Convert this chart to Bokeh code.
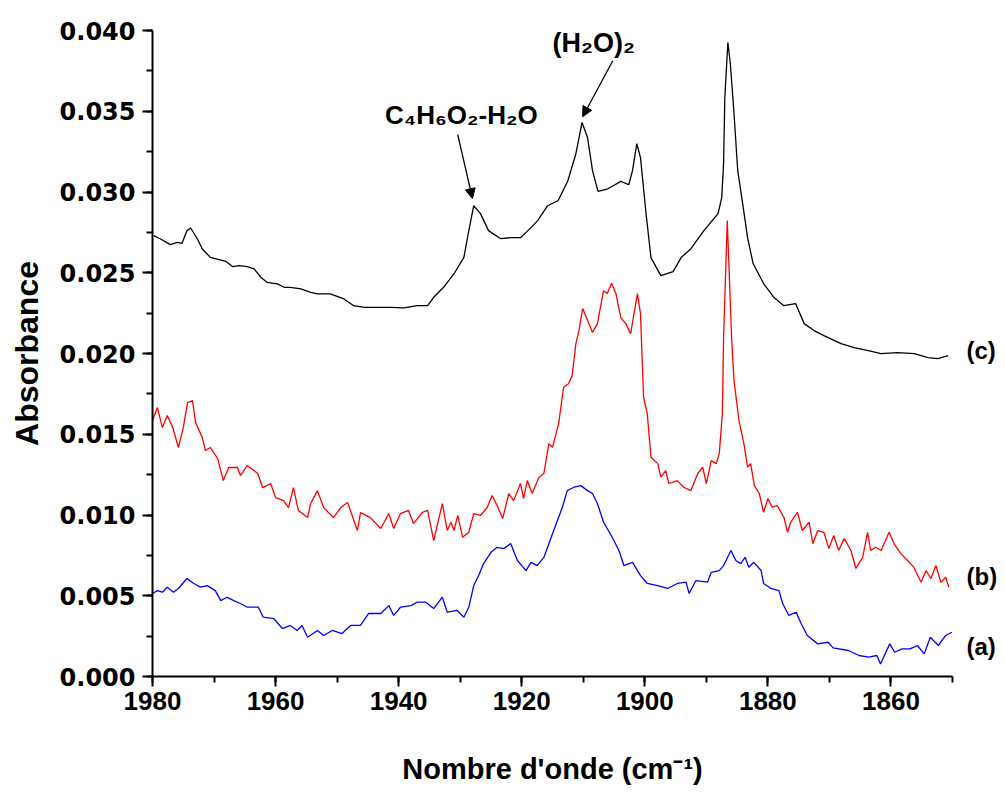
from bokeh.plotting import figure
from bokeh.models import (Range1d, Label, Arrow, NormalHead, FixedTicker, CustomJSTickFormatter,
                          LinearAxis)
from bokeh.embed import file_html
from bokeh.resources import INLINE

# ---- data ----
x_c = [1979.8, 1978.7, 1977.1, 1976.0, 1975.2, 1974.4, 1973.8, 1972.7, 1971.9, 1970.6,
       1968.1, 1967.0, 1965.9, 1964.6, 1963.5, 1962.4, 1961.4, 1959.7, 1958.6, 1957.6,
       1955.9, 1954.3, 1953.2, 1951.1, 1948.9, 1947.3, 1945.6, 1943.5, 1941.3, 1939.1,
       1937.0, 1935.3, 1934.3, 1932.7, 1931.0, 1929.4, 1928.6, 1927.8, 1926.7, 1925.4,
       1923.4, 1921.8, 1920.2, 1919.0, 1917.4, 1915.8, 1914.1, 1912.5, 1911.2, 1910.2,
       1909.3, 1908.5, 1907.6, 1906.0, 1903.9, 1902.6, 1902.0, 1901.3, 1900.7, 1899.8,
       1899.0, 1897.4, 1895.4, 1894.1, 1892.5, 1890.4, 1888.1, 1887.5, 1887.2, 1887.0,
       1886.5, 1886.1, 1885.5, 1884.9, 1884.1, 1883.3, 1882.4, 1880.7, 1879.0, 1877.4,
       1875.5, 1874.1, 1872.5, 1870.9, 1868.1, 1866.0, 1863.7, 1861.6, 1858.9, 1856.2,
       1854.0, 1852.4, 1850.7]
y_c = [0.02730, 0.02709, 0.02674, 0.02688, 0.02682, 0.02761, 0.02777, 0.02709, 0.02647, 0.02595,
       0.02571, 0.02538, 0.02544, 0.02538, 0.02524, 0.02472, 0.02441, 0.02431, 0.02410, 0.02410,
       0.02400, 0.02379, 0.02369, 0.02369, 0.02338, 0.02296, 0.02286, 0.02286, 0.02286, 0.02282,
       0.02296, 0.02296, 0.02348, 0.02410, 0.02494, 0.02595, 0.02761, 0.02915, 0.02866, 0.02761,
       0.02711, 0.02717, 0.02717, 0.02761, 0.02823, 0.02915, 0.02946, 0.03070, 0.03237, 0.03431,
       0.03336, 0.03132, 0.03004, 0.03020, 0.03066, 0.03045, 0.03132, 0.03299, 0.03213, 0.02866,
       0.02594, 0.02482, 0.02507, 0.02594, 0.02649, 0.02761, 0.02866, 0.02965, 0.03175, 0.03584,
       0.03926, 0.03794, 0.03485, 0.03132, 0.02928, 0.02717, 0.02557, 0.02433, 0.02346, 0.02296,
       0.02309, 0.02185, 0.02142, 0.02111, 0.02061, 0.02036, 0.02018, 0.01999, 0.02005, 0.01999,
       0.01975, 0.01968, 0.01987]

x_b = [1980.0, 1979.2, 1978.4, 1977.6, 1976.7, 1975.8, 1975.0, 1974.3, 1973.5, 1973.0,
       1971.9, 1971.4, 1970.6, 1969.4, 1968.5, 1967.6, 1966.2, 1965.7, 1964.6, 1962.9,
       1962.1, 1960.8, 1960.0, 1958.7, 1957.9, 1957.1, 1956.3, 1954.8, 1954.3, 1953.2,
       1952.2, 1950.6, 1949.4, 1948.3, 1946.7, 1946.2, 1944.6, 1942.9, 1941.6, 1940.8,
       1939.7, 1938.4, 1937.6, 1936.1, 1935.3, 1934.3, 1932.9, 1932.1, 1931.5, 1931.0,
       1930.4, 1929.6, 1928.6, 1927.8, 1926.7, 1925.6, 1924.8, 1924.0, 1923.1, 1922.1,
       1921.3, 1920.2, 1919.7, 1919.1, 1918.3, 1917.2, 1916.4, 1915.6, 1915.0, 1914.0,
       1913.2, 1912.4, 1911.8, 1911.2, 1910.7, 1910.1, 1909.3, 1908.5, 1907.7, 1906.7,
       1906.1, 1905.4, 1904.7, 1903.9, 1903.1, 1902.3, 1901.2, 1900.7, 1900.2, 1899.6,
       1899.0, 1897.9, 1897.4, 1896.6, 1896.1, 1894.7, 1893.7, 1892.5, 1891.4, 1890.6,
       1890.0, 1889.2, 1888.4, 1887.9, 1887.4, 1887.2, 1886.6, 1885.9, 1885.5, 1884.7,
       1883.9, 1883.3, 1882.8, 1882.2, 1881.4, 1880.7, 1880.0, 1879.3, 1878.5, 1877.4,
       1876.8, 1876.3, 1875.2, 1874.4, 1873.3, 1872.7, 1871.9, 1870.9, 1870.1, 1869.3,
       1868.5, 1867.6, 1866.5, 1865.7, 1864.6, 1863.8, 1863.3, 1862.5, 1861.6, 1860.3,
       1859.5, 1858.4, 1857.3, 1856.3, 1855.1, 1854.3, 1853.5, 1852.7, 1851.9, 1851.1,
       1850.6]
y_b = [0.01585, 0.01665, 0.01541, 0.01616, 0.01541, 0.01418, 0.01541, 0.01696, 0.01708, 0.01572,
       0.01479, 0.01399, 0.01418, 0.01349, 0.01213, 0.01294, 0.01294, 0.01244, 0.01306, 0.01257,
       0.01170, 0.01195, 0.01108, 0.01089, 0.01046, 0.01170, 0.01028, 0.00984, 0.01071, 0.01151,
       0.01046, 0.00984, 0.01046, 0.01077, 0.00904, 0.01015, 0.00984, 0.00916, 0.01009, 0.00916,
       0.01009, 0.01028, 0.00947, 0.01017, 0.01028, 0.00842, 0.01071, 0.00904, 0.00955, 0.00904,
       0.00997, 0.00862, 0.00893, 0.01009, 0.00997, 0.01048, 0.01120, 0.01059, 0.00978, 0.01133,
       0.01089, 0.01195, 0.01102, 0.01213, 0.01133, 0.01234, 0.01257, 0.01442, 0.01419, 0.01566,
       0.01791, 0.01813, 0.01863, 0.02061, 0.02142, 0.02278, 0.02204, 0.02131, 0.02185, 0.02389,
       0.02371, 0.02435, 0.02371, 0.02222, 0.02185, 0.02123, 0.02371, 0.02247, 0.01729, 0.01628,
       0.01357, 0.01318, 0.01234, 0.01275, 0.01195, 0.01213, 0.01172, 0.01151, 0.01257, 0.01296,
       0.01195, 0.01337, 0.01318, 0.01380, 0.01628, 0.02100, 0.02823, 0.02100, 0.01832, 0.01585,
       0.01442, 0.01296, 0.01318, 0.01182, 0.01133, 0.01017, 0.01102, 0.01048, 0.01059, 0.00986,
       0.00893, 0.00955, 0.01017, 0.00904, 0.00955, 0.00823, 0.00904, 0.00893, 0.00792, 0.00873,
       0.00780, 0.00854, 0.00780, 0.00669, 0.00738, 0.00893, 0.00780, 0.00800, 0.00780, 0.00893,
       0.00823, 0.00761, 0.00718, 0.00677, 0.00584, 0.00656, 0.00607, 0.00687, 0.00584, 0.00615,
       0.00553]

x_a = [1980.0, 1979.2, 1978.4, 1977.6, 1976.6, 1975.8, 1974.4, 1973.3, 1972.2, 1971.1,
       1969.8, 1968.9, 1967.9, 1966.8, 1965.7, 1964.6, 1962.8, 1962.0, 1960.3, 1958.9,
       1957.6, 1956.5, 1955.7, 1954.8, 1953.2, 1952.2, 1950.8, 1949.2, 1947.8, 1946.2,
       1944.9, 1942.9, 1941.6, 1940.8, 1939.7, 1938.0, 1937.0, 1935.6, 1934.3, 1932.9,
       1932.1, 1930.5, 1929.4, 1928.6, 1927.8, 1927.0, 1926.2, 1925.0, 1924.0, 1922.9,
       1921.8, 1920.7, 1919.3, 1918.5, 1917.5, 1916.4, 1914.8, 1913.4, 1912.6, 1911.5,
       1910.4, 1909.3, 1908.5, 1907.7, 1906.7, 1905.3, 1904.2, 1903.4, 1902.0, 1900.7,
       1899.6, 1897.9, 1896.3, 1894.7, 1893.3, 1892.8, 1891.7, 1889.8, 1889.2, 1887.9,
       1887.2, 1886.0, 1885.2, 1884.4, 1883.7, 1883.1, 1882.3, 1881.1, 1880.7, 1879.5,
       1878.2, 1877.6, 1876.6, 1875.4, 1874.6, 1873.6, 1871.9, 1870.2, 1869.4, 1866.9,
       1865.2, 1863.6, 1862.3, 1861.7, 1860.2, 1859.4, 1858.2, 1856.9, 1855.7, 1854.6,
       1853.6, 1852.3, 1851.1, 1850.1]
y_a = [0.00514, 0.00532, 0.00522, 0.00553, 0.00522, 0.00545, 0.00607, 0.00576, 0.00553, 0.00563,
       0.00532, 0.00470, 0.00491, 0.00470, 0.00452, 0.00429, 0.00429, 0.00367, 0.00359, 0.00297,
       0.00316, 0.00285, 0.00316, 0.00243, 0.00285, 0.00254, 0.00285, 0.00266, 0.00316, 0.00316,
       0.00390, 0.00390, 0.00439, 0.00378, 0.00429, 0.00439, 0.00460, 0.00460, 0.00421, 0.00491,
       0.00398, 0.00409, 0.00367, 0.00429, 0.00563, 0.00625, 0.00699, 0.00769, 0.00800, 0.00792,
       0.00823, 0.00718, 0.00656, 0.00707, 0.00687, 0.00738, 0.00904, 0.01048, 0.01151, 0.01172,
       0.01182, 0.01151, 0.01133, 0.01071, 0.00955, 0.00862, 0.00780, 0.00687, 0.00707, 0.00625,
       0.00576, 0.00563, 0.00545, 0.00576, 0.00584, 0.00514, 0.00594, 0.00584, 0.00645, 0.00656,
       0.00687, 0.00780, 0.00718, 0.00699, 0.00738, 0.00677, 0.00707, 0.00656, 0.00576, 0.00545,
       0.00532, 0.00452, 0.00378, 0.00398, 0.00328, 0.00254, 0.00202, 0.00212, 0.00177, 0.00161,
       0.00130, 0.00120, 0.00130, 0.00078, 0.00202, 0.00150, 0.00171, 0.00171, 0.00192, 0.00140,
       0.00243, 0.00192, 0.00254, 0.00274]

x_ticks = [1980, 1960, 1940, 1920, 1900, 1880, 1860]
y_ticks = [0.000, 0.005, 0.010, 0.015, 0.020, 0.025, 0.030, 0.035, 0.040]
series_labels = ["(a)", "(b)", "(c)"]
series_label_y = [0.00186, 0.00619, 0.02018]
series_colors = ["#0000ff", "#ff0000", "#000000"]

p = figure(frame_width=800, frame_height=646, output_backend="svg", toolbar_location=None,
           x_range=Range1d(1980, 1850), y_range=Range1d(0, 0.040),
           min_border_left=152, min_border_top=30, min_border_right=48, min_border_bottom=112)
p.outline_line_color = None
p.xgrid.visible = False
p.ygrid.visible = False
p.background_fill_color = "white"
p.border_fill_color = "white"

for xs, ys, col in [(x_c, y_c, series_colors[2]), (x_b, y_b, series_colors[1]), (x_a, y_a, series_colors[0])]:
    p.line(xs, ys, line_color=col, line_width=1.3)

p.xaxis.ticker = FixedTicker(ticks=x_ticks, minor_ticks=list(range(1850, 1981, 10)))
p.yaxis.ticker = FixedTicker(ticks=y_ticks, minor_ticks=[i * 0.0025 for i in range(17)])
p.yaxis.formatter = CustomJSTickFormatter(code="return tick.toFixed(3);")

for ax in (p.xaxis[0], p.yaxis[0]):
    ax.axis_line_width = 2
    ax.axis_line_color = "black"
    ax.major_tick_line_width = 2
    ax.minor_tick_line_width = 2
    ax.major_tick_out = 10
    ax.major_tick_in = 0
    ax.minor_tick_out = 6
    ax.minor_tick_in = 0
    ax.major_label_text_color = "black"
    ax.axis_label_text_color = "black"
    ax.axis_label_text_font_style = "bold"
    ax.major_label_text_font_style = "bold"

p.xaxis.major_label_text_font = "Liberation Sans"
p.xaxis.major_label_text_font_size = "26px"
p.xaxis.major_label_standoff = 5
p.xaxis.axis_label = "Nombre d'onde (cm\u207b\u00b9)"
p.xaxis.axis_label_text_font = "Liberation Sans"
p.xaxis.axis_label_text_font_size = "29px"
p.xaxis.axis_label_standoff = 40

p.yaxis.major_label_text_font = "DejaVu Sans"
p.yaxis.major_label_text_font_size = "24px"
p.yaxis.major_label_standoff = 7
p.yaxis.axis_label = "Absorbance"
p.yaxis.axis_label_text_font = "Liberation Sans"
p.yaxis.axis_label_text_font_size = "32px"
p.yaxis.axis_label_standoff = 12

# series labels on the right, as an invisible right-hand axis
label_code = "const ys = %s; const labs = %s; let best = 0; for (let i = 0; i < ys.length; i++) { if (Math.abs(ys[i] - tick) < Math.abs(ys[best] - tick)) best = i; } return labs[best];" % (
    str(series_label_y), str(series_labels).replace("'", '"'))
rax = LinearAxis(ticker=FixedTicker(ticks=series_label_y, minor_ticks=[]),
                 formatter=CustomJSTickFormatter(code=label_code))
rax.axis_line_color = None
rax.major_tick_line_color = None
rax.minor_tick_line_color = None
rax.major_label_standoff = 8
rax.major_label_text_font = "Liberation Sans"
rax.major_label_text_font_style = "bold"
rax.major_label_text_font_size = "24px"
rax.major_label_text_color = "black"
p.add_layout(rax, "right")

# peak annotations
p.add_layout(Label(x=1929.8, y=0.03475, text="C\u2084H\u2086O\u2082-H\u2082O", text_font="Liberation Sans",
                   text_font_style="bold", text_font_size="26px", text_align="center",
                   text_baseline="middle", text_color="black"))
p.add_layout(Label(x=1908.3, y=0.03925, text="(H\u2082O)\u2082", text_font="Liberation Sans",
                   text_font_style="bold", text_font_size="27px", text_align="center",
                   text_baseline="middle", text_color="black"))
p.add_layout(Arrow(end=NormalHead(size=10, fill_color="black", line_color="black"),
                   x_start=1930.4, y_start=0.03355, x_end=1928.0, y_end=0.02959,
                   line_color="black", line_width=1.3))
p.add_layout(Arrow(end=NormalHead(size=10, fill_color="black", line_color="black"),
                   x_start=1905.2, y_start=0.03813, x_end=1910.1, y_end=0.03466,
                   line_color="black", line_width=1.3))

open("out.html", "w").write(file_html(p, INLINE))
